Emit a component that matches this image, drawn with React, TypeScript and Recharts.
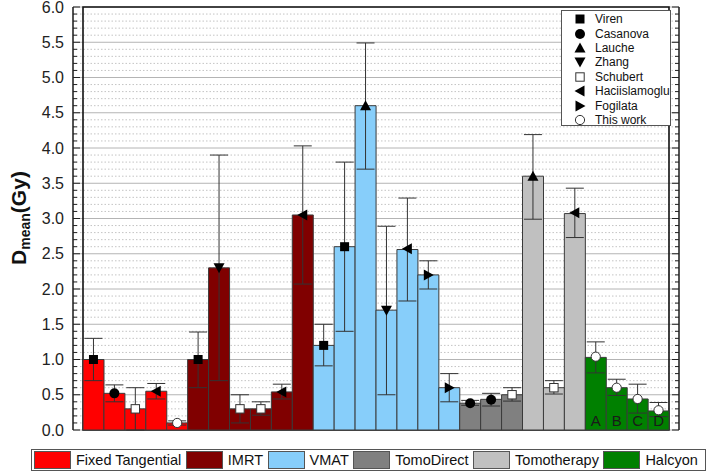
import React from 'react';
import {
  ComposedChart,
  Bar,
  Scatter,
  XAxis,
  YAxis,
  CartesianGrid,
  ErrorBar,
  Cell,
  LabelList,
  ReferenceArea,
} from 'recharts';

const FONT = '"Liberation Sans", Arial, Helvetica, sans-serif';

// Techniques (groups) and their colours
const groups = ['Fixed Tangential', 'IMRT', 'VMAT', 'TomoDirect', 'Tomotherapy', 'Halcyon'];
const groupColors = ['#ff0000', '#800000', '#87cefa', '#808080', '#c0c0c0', '#008000'];

// Studies (marker legend)
const studies = ['Viren', 'Casanova', 'Lauche', 'Zhang', 'Schubert', 'Haciislamoglu', 'Fogilata', 'This work'];

// One entry per bar
const barGroup = [0, 0, 0, 0, 0, 1, 1, 1, 1, 1, 1, 2, 2, 2, 2, 2, 2, 2, 3, 3, 3, 4, 4, 4, 5, 5, 5, 5];
const barStudy = [
  'Viren', 'Casanova', 'Schubert', 'Haciislamoglu', 'This work',
  'Viren', 'Zhang', 'Schubert', 'Schubert', 'Haciislamoglu', 'Haciislamoglu',
  'Viren', 'Viren', 'Lauche', 'Zhang', 'Haciislamoglu', 'Fogilata', 'Fogilata',
  'Casanova', 'Casanova', 'Schubert',
  'Lauche', 'Schubert', 'Haciislamoglu',
  'This work', 'This work', 'This work', 'This work',
];
const barValues = [
  1.0, 0.52, 0.3, 0.55, 0.1,
  1.0, 2.3, 0.3, 0.3, 0.54, 3.05,
  1.2, 2.6, 4.6, 1.7, 2.56, 2.2, 0.6,
  0.38, 0.435, 0.5,
  3.6, 0.6, 3.07,
  1.03, 0.6, 0.44, 0.27,
];
const markerValues = [
  1.0, 0.52, 0.3, 0.55, 0.1,
  1.0, 2.3, 0.3, 0.3, 0.54, 3.05,
  1.2, 2.6, 4.6, 1.7, 2.57, 2.2, 0.6,
  0.38, 0.43, 0.5,
  3.6, 0.6, 3.08,
  1.04, 0.6, 0.44, 0.28,
];
const errLow = [
  0.7, 0.4, 0.0, 0.44, 0.07,
  0.6, 0.7, 0.1, 0.21, 0.44, 2.07,
  0.91, 1.4, 3.7, 0.5, 1.83, 2.0, 0.4,
  0.35, 0.34, 0.41,
  2.99, 0.51, 2.73,
  0.81, 0.49, 0.24, 0.19,
];
const errHigh = [
  1.3, 0.64, 0.6, 0.66, 0.13,
  1.39, 3.9, 0.5, 0.4, 0.65, 4.03,
  1.5, 3.8, 5.49, 2.89, 3.29, 2.4, 0.8,
  0.42, 0.52, 0.6,
  4.19, 0.7, 3.43,
  1.25, 0.72, 0.65, 0.39,
];
const barTags = [
  '', '', '', '', '',
  '', '', '', '', '', '',
  '', '', '', '', '', '', '',
  '', '', '',
  '', '', '',
  'A', 'B', 'C', 'D',
];

// Y axis ticks
const majorTicks = [0, 0.5, 1, 1.5, 2, 2.5, 3, 3.5, 4, 4.5, 5, 5.5, 6];
const allTicks = Array.from({ length: 61 }, (_, i) => Math.round(i) / 10);
const minorTicks = allTicks.filter((t) => Math.abs(t * 2 - Math.round(t * 2)) > 1e-6);

const data = barValues.map((v, i) => ({
  id: i + 1,
  value: v,
  mk: markerValues[i],
  err: [Math.max(0, v - errLow[i]), Math.max(0, errHigh[i] - v)],
  group: barGroup[i],
  study: barStudy[i],
  tag: barTags[i],
}));

const isMajor = (v: number) => Math.abs(v * 2 - Math.round(v * 2)) < 1e-6;

const LeftTick = (props: any) => {
  const { x, y, payload } = props;
  const v = Number(payload.value);
  const m = isMajor(v);
  return (
    <g>
      <line x1={x} x2={x + (m ? 7 : 4)} y1={y} y2={y} stroke="#222" strokeWidth={1} />
      {m && (
        <text x={x - 9} y={y + 5.5} textAnchor="end" fontSize={16} fill="#222" fontFamily={FONT}>
          {v.toFixed(1)}
        </text>
      )}
    </g>
  );
};

const RightTick = (props: any) => {
  const { x, y, payload } = props;
  const v = Number(payload.value);
  const m = isMajor(v);
  return <line x1={x} x2={x - (m ? 7 : 4)} y1={y} y2={y} stroke="#222" strokeWidth={1} />;
};

const MarkerGlyph = ({ type, cx, cy }: { type: string; cx: number; cy: number }) => {
  const c = '#000';
  switch (type) {
    case 'Viren':
      return <rect x={cx - 4.5} y={cy - 4.5} width={9} height={9} fill={c} />;
    case 'Casanova':
      return <circle cx={cx} cy={cy} r={5} fill={c} />;
    case 'Lauche':
      return <polygon points={`${cx - 5.5},${cy + 4.5} ${cx + 5.5},${cy + 4.5} ${cx},${cy - 5.5}`} fill={c} />;
    case 'Zhang':
      return <polygon points={`${cx - 5.5},${cy - 4.5} ${cx + 5.5},${cy - 4.5} ${cx},${cy + 5.5}`} fill={c} />;
    case 'Schubert':
      return <rect x={cx - 4.2} y={cy - 4.2} width={8.4} height={8.4} fill="#fff" stroke="#333" strokeWidth={1} />;
    case 'Haciislamoglu':
      return <polygon points={`${cx + 4.5},${cy - 5.5} ${cx + 4.5},${cy + 5.5} ${cx - 5.5},${cy}`} fill={c} />;
    case 'Fogilata':
      return <polygon points={`${cx - 4.5},${cy - 5.5} ${cx - 4.5},${cy + 5.5} ${cx + 5.5},${cy}`} fill={c} />;
    case 'This work':
    default:
      return <circle cx={cx} cy={cy} r={4.6} fill="#fff" stroke="#333" strokeWidth={1} />;
  }
};

const MarkerShape = (props: any) => {
  const { cx, cy, payload } = props;
  if (cx == null || cy == null) return <g />;
  return <MarkerGlyph type={payload.study} cx={cx} cy={cy} />;
};

const EmptyShape = () => <g />;

const HalcyonTag = (props: any) => {
  const { x, y, width, height, value } = props;
  if (!value) return null;
  return (
    <text
      x={x + width / 2}
      y={y + height - 4}
      textAnchor="middle"
      fontSize={15}
      fill="#1a1a1a"
      fontFamily={FONT}
    >
      {value}
    </text>
  );
};

const CHART_W = 709;
const CHART_H = 472;

export default function App() {
  return (
    <div
      style={{
        position: 'absolute',
        left: 0,
        top: 0,
        width: CHART_W,
        height: CHART_H,
        background: '#fff',
        fontFamily: FONT,
      }}
    >
      <ComposedChart
        width={CHART_W}
        height={CHART_H}
        data={data}
        margin={{ top: 7, right: 0, left: 0, bottom: 42 }}
        barCategoryGap={0}
        barGap={0}
      >
        <XAxis dataKey="id" type="category" hide padding={{ left: 10, right: 10 }} />
        <YAxis
          yAxisId="left"
          orientation="left"
          width={73}
          domain={[0, 6]}
          ticks={allTicks}
          interval={0}
          tickSize={0}
          tickMargin={0}
          tick={<LeftTick />}
          tickLine={false}
          axisLine={{ stroke: '#1a1a1a', strokeWidth: 1.5 }}
          allowDataOverflow
        />
        <YAxis
          yAxisId="right"
          orientation="right"
          width={30}
          domain={[0, 6]}
          ticks={allTicks}
          interval={0}
          tickSize={0}
          tickMargin={0}
          tick={<RightTick />}
          tickLine={false}
          axisLine={{ stroke: '#1a1a1a', strokeWidth: 1.5 }}
          allowDataOverflow
        />
        <CartesianGrid
          yAxisId="left"
          vertical={false}
          horizontalValues={minorTicks}
          stroke="#c4c4c4"
          strokeDasharray="1.5 2"
        />
        <CartesianGrid
          yAxisId="left"
          vertical={false}
          horizontalValues={majorTicks}
          stroke="#b4b4b4"
        />
        <Bar
          yAxisId="left"
          dataKey="value"
          isAnimationActive={false}
          stroke="#3a3a3a"
          strokeWidth={1}
        >
          {data.map((d, i) => (
            <Cell key={i} fill={groupColors[d.group]} />
          ))}
          <LabelList dataKey="tag" content={<HalcyonTag />} />
        </Bar>
        <Scatter
          yAxisId="left"
          dataKey="mk"
          isAnimationActive={false}
          shape={MarkerShape}
          legendType="none"
        />
        <Scatter
          yAxisId="left"
          dataKey="value"
          isAnimationActive={false}
          shape={EmptyShape}
          legendType="none"
        >
          <ErrorBar dataKey="err" direction="y" width={9} stroke="#333" strokeWidth={1} isAnimationActive={false} />
        </Scatter>
        <ReferenceArea
          yAxisId="left"
          y1={0}
          y2={6}
          fill="none"
          fillOpacity={0}
          stroke="#111"
          strokeWidth={1.6}
        />
      </ComposedChart>

      {/* Y axis title */}
      <svg
        width={60}
        height={CHART_H}
        style={{ position: 'absolute', left: 0, top: 0, pointerEvents: 'none' }}
      >
        <text
          transform="translate(26, 218) rotate(-90)"
          textAnchor="middle"
          fontWeight="bold"
          fill="#111"
          fontFamily={FONT}
        >
          <tspan fontSize={21}>D</tspan>
          <tspan fontSize={14} dy={4}>mean</tspan>
          <tspan fontSize={21} dy={-4}>(Gy)</tspan>
        </text>
      </svg>

      {/* Study marker legend */}
      <div
        style={{
          position: 'absolute',
          left: 561,
          top: 10,
          width: 110,
          height: 116,
          boxSizing: 'border-box',
          border: '1px solid #555',
          background: '#fff',
          paddingTop: 1,
        }}
      >
        {studies.map((s) => (
          <div key={s} style={{ display: 'flex', alignItems: 'center', height: 14.4 }}>
            <svg width={30} height={14} style={{ flex: 'none' }}>
              <MarkerGlyph type={s} cx={18} cy={7} />
            </svg>
            <span style={{ fontSize: 12, color: '#111', marginLeft: 3, lineHeight: '14px' }}>{s}</span>
          </div>
        ))}
      </div>

      {/* Technique legend */}
      <div
        style={{
          position: 'absolute',
          left: 31,
          top: 449,
          width: 675,
          height: 22,
          boxSizing: 'border-box',
          border: '1px solid #555',
          background: '#fff',
          display: 'flex',
          alignItems: 'center',
          paddingLeft: 2,
        }}
      >
        {groups.map((g, i) => (
          <div key={g} style={{ display: 'flex', alignItems: 'center' }}>
            <div
              style={{
                width: 37,
                height: 18,
                boxSizing: 'border-box',
                border: '1px solid #555',
                background: groupColors[i],
                flex: 'none',
              }}
            />
            <span style={{ fontSize: 14.5, color: '#111', marginLeft: 5, marginRight: 4.5, whiteSpace: 'nowrap' }}>
              {g}
            </span>
          </div>
        ))}
      </div>
    </div>
  );
}
